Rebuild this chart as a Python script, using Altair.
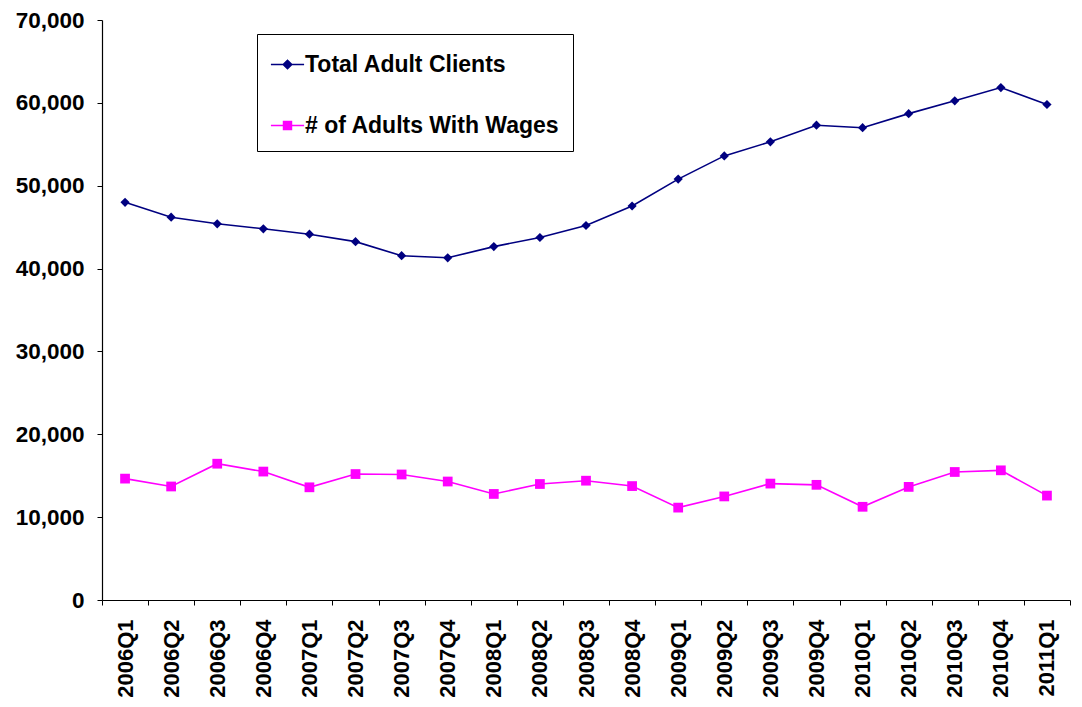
import altair as alt
import pandas as pd

quarters = ["2006Q1", "2006Q2", "2006Q3", "2006Q4", "2007Q1", "2007Q2", "2007Q3",
            "2007Q4", "2008Q1", "2008Q2", "2008Q3", "2008Q4", "2009Q1", "2009Q2",
            "2009Q3", "2009Q4", "2010Q1", "2010Q2", "2010Q3", "2010Q4", "2011Q1"]
total_adult_clients = [48000, 46200, 45400, 44800, 44150, 43250, 41550,
                       41300, 42650, 43750, 45200, 47550, 50800, 53600,
                       55300, 57300, 57000, 58700, 60250, 61850, 59800]
adults_with_wages = [14650, 13700, 16450, 15500, 13600, 15200, 15150,
                     14300, 12800, 14000, 14400, 13750, 11150, 12500,
                     14050, 13900, 11250, 13650, 15450, 15650, 12600]
series_names = ["Total Adult Clients", "# of Adults With Wages"]
series_colors = ["#000080", "#FF00FF"]
series_shapes = ["diamond", "square"]
legend_paths = ["M-1,0H1M-0.26,0L0,-0.26L0.26,0L0,0.26Z",
                "M-1,0H1M-0.24,-0.24H0.24V0.24H-0.24Z"]

rows = []
for q, t, w in zip(quarters, total_adult_clients, adults_with_wages):
    rows.append({"quarter": q, "series": series_names[0], "value": t})
    rows.append({"quarter": q, "series": series_names[1], "value": w})
df = pd.DataFrame(rows)

FONT = "Liberation Sans"

x_enc = alt.X(
    "quarter:N", sort=quarters, bandPosition=0.5,
    scale=alt.Scale(type="band", domain=quarters, paddingInner=0, paddingOuter=0),
    axis=alt.Axis(title=None, labelAngle=270, tickBand="extent", labelFont=FONT,
                  labelFontSize=22, labelFontWeight="bold", labelColor="black",
                  labelPadding=14, tickSize=5, tickColor="black", tickWidth=1,
                  domainColor="black", domainWidth=1.2, grid=False, labelOverlap=False),
)
y_enc = alt.Y(
    "value:Q", scale=alt.Scale(domain=[0, 70000], nice=False),
    axis=alt.Axis(title=None, values=list(range(0, 70001, 10000)), format=",.0f",
                  labelFont=FONT, labelFontSize=22.5, labelFontWeight="bold",
                  labelColor="black", labelPadding=13, tickSize=5, tickColor="black",
                  tickWidth=1, domainColor="black", domainWidth=1.2, grid=False),
)

base = alt.Chart(df)
layers = []
for name, col, shp in zip(series_names, series_colors, series_shapes):
    sub = base.transform_filter(alt.datum.series == name)
    layers.append(sub.mark_line(color=col, strokeWidth=1.6).encode(x=x_enc, y=y_enc))
    layers.append(sub.mark_point(color=col, filled=True, opacity=1, shape=shp,
                                 size=85 if shp == "diamond" else 95).encode(x=x_enc, y=y_enc))

leg = alt.Legend(title=None, orient="none", legendX=155, legendY=14, padding=13,
                 strokeColor="black", fillColor="white", labelFont=FONT,
                 labelFontSize=23, labelFontWeight="bold", labelColor="black",
                 symbolSize=1100, rowPadding=31, labelOffset=0, symbolStrokeWidth=1.5,
                 labelLimit=400, symbolOpacity=1)

legend_layer = base.transform_filter("false").mark_point(filled=True, opacity=1, strokeWidth=1.5).encode(
    color=alt.Color("series:N", scale=alt.Scale(domain=series_names, range=series_colors), legend=leg),
    stroke=alt.Stroke("series:N", scale=alt.Scale(domain=series_names, range=series_colors), legend=leg),
    shape=alt.Shape("series:N", scale=alt.Scale(domain=series_names, range=legend_paths), legend=leg),
)

chart = alt.layer(*layers, legend_layer).properties(
    width=968, height=580,
    padding={"left": 94, "top": 12, "right": 2, "bottom": 105},
    autosize=alt.AutoSizeParams(type="none"),
    background="white",
).configure_view(stroke=None)

chart.save("out.html", embed_options={"renderer": "svg", "actions": False})
